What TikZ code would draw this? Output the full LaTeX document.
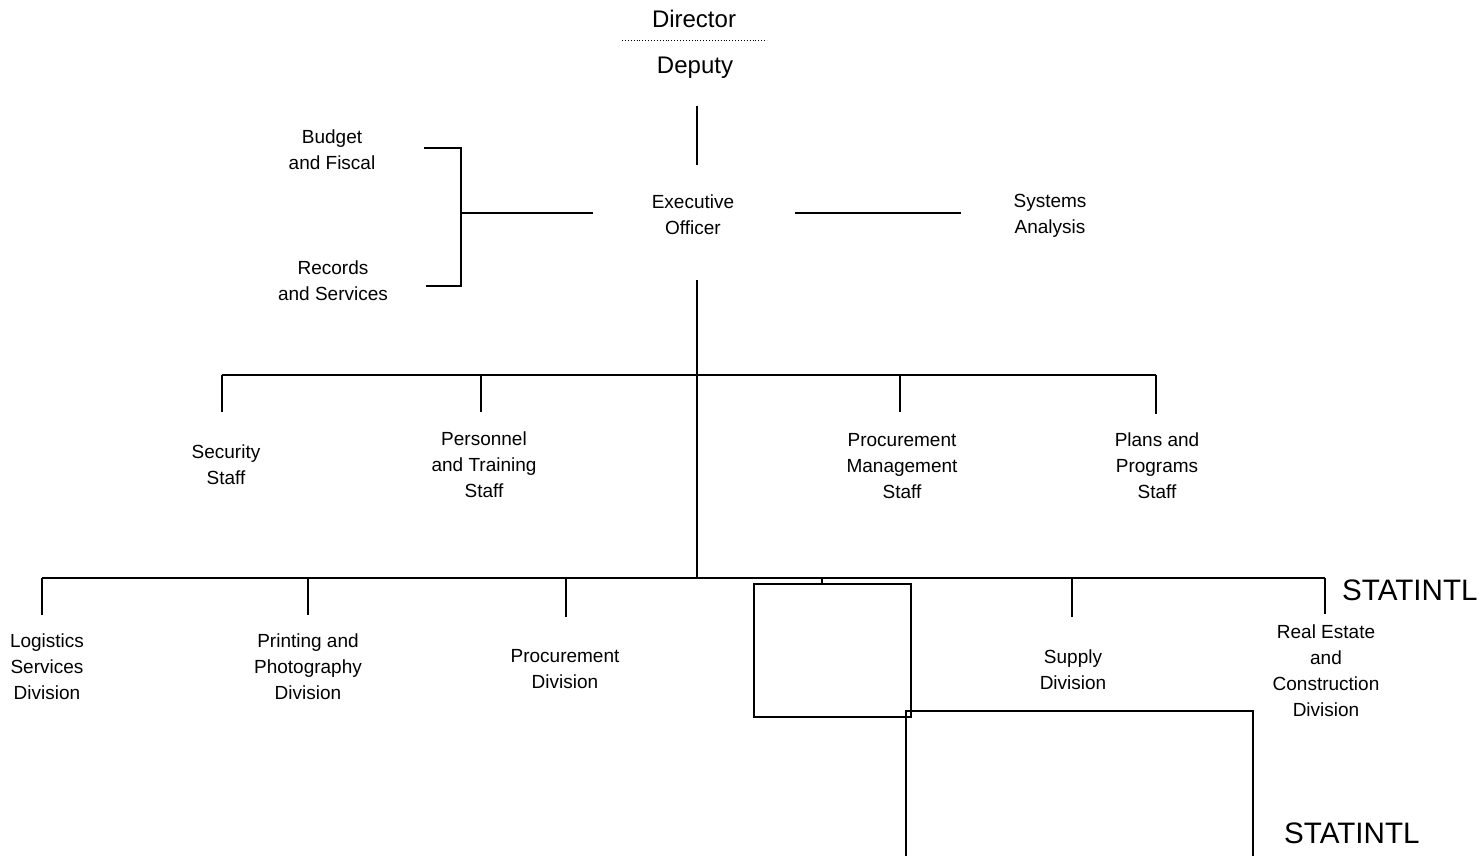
\documentclass[tikz,border=0pt]{standalone}
\usepackage{fontspec}
\setmainfont{Liberation Sans}
\begin{document}
\begin{tikzpicture}[x=1pt,y=-1pt,
  lbl/.style={align=center,inner sep=0pt,font=\fontsize{19}{26}\selectfont},
  head/.style={inner sep=0pt,font=\fontsize{24}{26}\selectfont},
  tag/.style={inner sep=0pt,font=\fontsize{29.6}{30}\selectfont},
  link/.style={line width=1.3pt},
  blank/.style={line width=2.2pt}]
\useasboundingbox (0,0) rectangle (1483,856);

% heads
\node[head,anchor=base] (director) at (694,28) {Director};
\node[head,anchor=base] (deputy) at (695,74) {Deputy};
\draw[dotted,line width=0.9pt] (622,40) -- (767,40);

% executive level
\node[lbl] (exec) at (693,215) {Executive\\Officer};
\node[lbl] (budget) at (332,150) {Budget\\and Fiscal};
\node[lbl] (records) at (333,281) {Records\\and Services};
\node[lbl] (systems) at (1050,216) {Systems\\Analysis};

\coordinate (depA) at (697,106);
\coordinate (depB) at (697,165);
\draw[link] (depA) -- (depB);

\coordinate (exL) at (593,213);
\coordinate (brM) at (461,213);
\coordinate (brT) at (461,148);
\coordinate (brB) at (461,286);
\coordinate (brTe) at (424,148);
\coordinate (brBe) at (426,286);
\draw[link] (exL) -- (brM);
\draw[link] (brTe) -- (brT) -- (brB) -- (brBe);

\coordinate (exR) at (795,213);
\coordinate (sysL) at (961,213);
\draw[link] (exR) -- (sysL);

\coordinate (exD) at (697,280);
\coordinate (divJ) at (697,578);
\draw[link] (exD) -- (divJ);

% staff level
\node[lbl] (security) at (226,465) {Security\\Staff};
\node[lbl] (personnel) at (484,465) {Personnel\\and Training\\Staff};
\node[lbl] (procmgmt) at (902,466) {Procurement\\Management\\Staff};
\node[lbl] (plans) at (1157,466) {Plans and\\Programs\\Staff};

\coordinate (s1) at (222,375);
\coordinate (s2) at (481,375);
\coordinate (s3) at (900,375);
\coordinate (s4) at (1156,375);
\draw[link] (s1) -- (s4);
\draw[link] (s1) -- (222,412);
\draw[link] (s2) -- (481,412);
\draw[link] (s3) -- (900,412);
\draw[link] (s4) -- (1156,414);

% division level
\node[lbl] (logistics) at (47,667) {Logistics\\Services\\Division};
\node[lbl] (printing) at (308,667) {Printing and\\Photography\\Division};
\node[lbl] (procurement) at (565,669) {Procurement\\Division};
\node[lbl] (supply) at (1073,670) {Supply\\Division};
\node[lbl] (realestate) at (1326,671) {Real Estate\\and\\Construction\\Division};

\coordinate (d1) at (42,578);
\coordinate (d2) at (308,578);
\coordinate (d3) at (566,578);
\coordinate (d4) at (822,578);
\coordinate (d5) at (1072,578);
\coordinate (d6) at (1325,578);
\draw[link] (d1) -- (d6);
\draw[link] (d1) -- (42,615);
\draw[link] (d2) -- (308,615);
\draw[link] (d3) -- (566,617);
\draw[link] (d4) -- (822,584);
\draw[link] (d5) -- (1072,617);
\draw[link] (d6) -- (1325,614);

% blanked areas
\draw[blank] (754,584) rectangle (911,717);
\draw[blank] (906,856) -- (906,711) -- (1253,711) -- (1253,856);

\node[tag,anchor=west] (tagA) at (1342,590) {STATINTL};
\node[tag,anchor=west] (tagB) at (1284,833) {STATINTL};
\end{tikzpicture}
\end{document}
